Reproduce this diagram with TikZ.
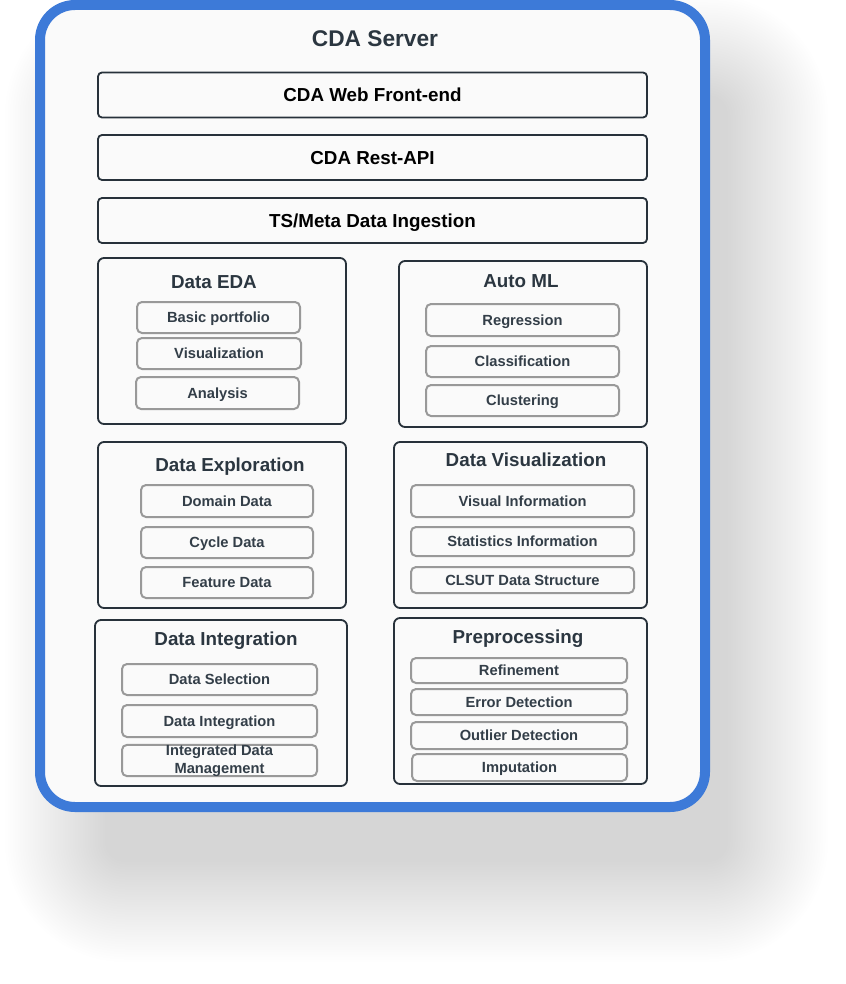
\documentclass[tikz,border=0pt]{standalone}
\usepackage{fontspec}
\setmainfont{Liberation Sans}
\definecolor{blueB}{HTML}{3D7AD8}
\definecolor{boxfill}{HTML}{FAFAFA}
\definecolor{darkline}{HTML}{27313A}
\definecolor{itemline}{HTML}{999999}
\definecolor{titletext}{HTML}{2B3640}
\definecolor{itemtext}{HTML}{333E48}
\tikzset{
  wide/.style={draw=darkline, line width=1.8pt, rounded corners=4pt, fill=boxfill,
    minimum width=549pt, minimum height=45pt, inner sep=0pt,
    font=\fontsize{18.8}{22}\selectfont\bfseries, text=black, text height=13.5pt, text depth=0pt},
  grp/.style={draw=darkline, line width=1.8pt, rounded corners=6pt, fill=boxfill, inner sep=0pt},
  grptitle/.style={font=\fontsize{18.8}{22}\selectfont\bfseries, text=titletext, inner sep=0pt,
    text height=13.5pt, text depth=0pt},
  itembase/.style={draw=itemline, line width=2pt, rounded corners=5pt, fill=boxfill, inner sep=0pt,
    font=\fontsize{14.7}{17}\selectfont\bfseries, text=itemtext, align=center},
  item/.style={itembase, text height=10.5pt, text depth=0pt},
  shadowlayer/.style={fill=black, fill opacity=0.0021, draw=none},
}
\begin{document}
\begin{tikzpicture}[x=1pt,y=-1pt]
\useasboundingbox[fill=white] (0,0) rectangle (845,984);
% soft shadow
\foreach \i in {0,...,40}{
  \pgfmathsetmacro{\d}{2.5*\i}
  \pgfmathsetmacro{\r}{20+2.5*\i}
  \path[shadowlayer, rounded corners=\r pt] (105-\d,95-\d) rectangle (728+\d,862+\d);
}
% outer server box
\draw[blueB, line width=10pt, fill=boxfill, rounded corners=35pt] (40,5) rectangle (705,807);
\node[font=\fontsize{22.7}{26}\selectfont\bfseries, text=titletext, text height=16.3pt, text depth=0pt, inner sep=0pt] (server) at (375,38) {CDA Server};

\node[wide] (web) at (372.5,95) {CDA Web Front-end};
\node[wide] (rest) at (372.5,157.5) {CDA Rest-API};
\node[wide] (ingest) at (372.5,220.5) {TS/Meta Data Ingestion};

% Data EDA
\node[grp, minimum width=248pt, minimum height=166pt] (eda) at (222,341) {};
\node[grptitle] (edaT) at (214,282) {Data EDA};
\node[item, minimum width=163pt, minimum height=31pt] (eda1) at (218.5,317.5) {Basic portfolio};
\node[item, minimum width=164pt, minimum height=31pt] (eda2) at (219,353.5) {Visualization};
\node[item, minimum width=163pt, minimum height=32pt] (eda3) at (217.5,393) {Analysis};

% Auto ML
\node[grp, minimum width=248pt, minimum height=166pt] (ml) at (523,344) {};
\node[grptitle] (mlT) at (521,281) {Auto ML};
\node[item, minimum width=193pt, minimum height=32pt] (ml1) at (522.5,320) {Regression};
\node[item, minimum width=193pt, minimum height=31pt] (ml2) at (522.5,361.5) {Classification};
\node[item, minimum width=193pt, minimum height=31pt] (ml3) at (522.5,400.5) {Clustering};

% Data Exploration
\node[grp, minimum width=248pt, minimum height=166pt] (exp) at (222,525) {};
\node[grptitle] (expT) at (230,465) {Data Exploration};
\node[item, minimum width=172pt, minimum height=32pt] (exp1) at (227,501) {Domain Data};
\node[item, minimum width=172pt, minimum height=31pt] (exp2) at (227,542.5) {Cycle Data};
\node[item, minimum width=172pt, minimum height=31pt] (exp3) at (227,582.5) {Feature Data};

% Data Visualization
\node[grp, minimum width=253pt, minimum height=166pt] (vis) at (520.5,525) {};
\node[grptitle] (visT) at (526,460) {Data Visualization};
\node[item, minimum width=223pt, minimum height=32pt] (vis1) at (522.5,501) {Visual Information};
\node[item, minimum width=223pt, minimum height=29pt] (vis2) at (522.5,541.5) {Statistics Information};
\node[item, minimum width=223pt, minimum height=26pt] (vis3) at (522.5,580) {CLSUT Data Structure};

% Data Integration
\node[grp, minimum width=252pt, minimum height=166pt] (int) at (221,703) {};
\node[grptitle] (intT) at (226,639) {Data Integration};
\node[item, minimum width=195pt, minimum height=31pt] (int1) at (219.5,679.5) {Data Selection};
\node[item, minimum width=195pt, minimum height=32pt] (int2) at (219.5,721) {Data Integration};
\node[itembase, minimum width=195pt, minimum height=31pt] (int3) at (219.5,760.5) {Integrated Data\\[0.5pt]Management};

% Preprocessing
\node[grp, minimum width=253pt, minimum height=166pt] (pre) at (520.5,701) {};
\node[grptitle] (preT) at (518,637) {Preprocessing};
\node[item, minimum width=216pt, minimum height=25pt] (pre1) at (519,670.5) {Refinement};
\node[item, minimum width=216pt, minimum height=26pt] (pre2) at (519,702) {Error Detection};
\node[item, minimum width=216pt, minimum height=27pt] (pre3) at (519,735.5) {Outlier Detection};
\node[item, minimum width=215pt, minimum height=27pt] (pre4) at (519.5,767.5) {Imputation};
\end{tikzpicture}
\end{document}
